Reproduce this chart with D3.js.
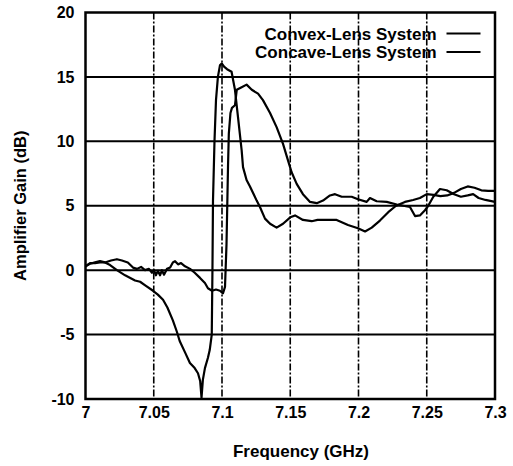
<!DOCTYPE html>
<html>
<head>
<meta charset="utf-8">
<script src="https://cdn.jsdelivr.net/npm/d3@7"></script>
<style>
  html, body { margin: 0; padding: 0; background: #fff; }
  svg { display: block; }
  text { font-family: "Liberation Sans", Arial, Helvetica, sans-serif; font-weight: bold; fill: #000; }
</style>
</head>
<body>
<svg id="chart" width="513" height="466"></svg>
<script>
// ---- data ----
const seriesNames = ["Convex-Lens System", "Concave-Lens System"];

const convexFreq = [7.000, 7.0033, 7.007, 7.0106, 7.0143, 7.018, 7.023, 7.029, 7.0363, 7.040, 7.044, 7.0495, 7.053, 7.0568, 7.060, 7.064, 7.067, 7.069, 7.073, 7.0765, 7.080, 7.0824, 7.084, 7.085, 7.086, 7.0875, 7.0897, 7.091, 7.0925, 7.093, 7.0934, 7.0945, 7.0956, 7.097, 7.0985, 7.0998, 7.1015, 7.1037, 7.107, 7.1095, 7.1117, 7.1144, 7.1154, 7.118, 7.1205, 7.1254, 7.1278, 7.1315, 7.1352, 7.140, 7.1447, 7.150, 7.1535, 7.1593, 7.1657, 7.170, 7.1767, 7.184, 7.1923, 7.1996, 7.2048, 7.2097, 7.2157, 7.2218, 7.2275, 7.234, 7.240, 7.245, 7.250, 7.255, 7.260, 7.265, 7.270, 7.275, 7.280, 7.285, 7.290, 7.295, 7.300];
const convexGain = [0.3, 0.5, 0.6, 0.7, 0.6, 0.4, 0.0, -0.4, -0.8, -0.9, -1.2, -1.6, -1.9, -2.3, -2.9, -3.9, -4.8, -5.5, -6.4, -7.2, -7.6, -8.0, -8.6, -9.9, -8.5, -7.6, -6.8, -6.2, -5.0, 0.0, 5.4, 10.0, 13.2, 15.0, 15.9, 16.05, 15.8, 15.6, 15.4, 14.0, 11.9, 9.3, 8.0, 7.0, 6.5, 5.4, 4.9, 4.0, 3.6, 3.3, 3.6, 4.1, 4.25, 3.9, 3.8, 3.9, 3.9, 3.9, 3.5, 3.25, 3.0, 3.3, 3.85, 4.5, 5.0, 5.3, 5.45, 5.6, 5.9, 5.85, 5.75, 5.8, 6.0, 6.3, 6.5, 6.4, 6.2, 6.15, 6.15];

const concaveFreq = [7.000, 7.0033, 7.007, 7.0106, 7.0143, 7.0187, 7.023, 7.0267, 7.031, 7.0348, 7.0377, 7.0407, 7.0436, 7.0465, 7.0487, 7.0502, 7.0516, 7.053, 7.0546, 7.056, 7.0575, 7.0597, 7.062, 7.064, 7.0656, 7.0678, 7.070, 7.0729, 7.0766, 7.080, 7.0839, 7.0875, 7.0897, 7.0927, 7.0956, 7.0985, 7.1007, 7.1022, 7.1033, 7.1044, 7.105, 7.1062, 7.1073, 7.1095, 7.1108, 7.1144, 7.118, 7.1218, 7.1264, 7.130, 7.1352, 7.140, 7.1447, 7.1484, 7.151, 7.1547, 7.1593, 7.1645, 7.1694, 7.174, 7.1791, 7.1828, 7.1877, 7.195, 7.1996, 7.206, 7.2084, 7.2133, 7.2207, 7.228, 7.2377, 7.2414, 7.245, 7.2487, 7.2511, 7.2548, 7.2597, 7.2646, 7.270, 7.275, 7.280, 7.284, 7.288, 7.293, 7.300];
const concaveGain = [0.3, 0.55, 0.55, 0.6, 0.6, 0.75, 0.85, 0.75, 0.6, 0.2, 0.1, 0.25, 0.0, 0.1, -0.2, 0.0, -0.4, -0.05, -0.4, 0.0, -0.35, 0.1, 0.2, 0.6, 0.7, 0.45, 0.55, 0.3, 0.1, -0.2, -0.6, -1.0, -1.4, -1.6, -1.5, -1.6, -1.8, -1.3, 2.0, 8.0, 10.6, 12.2, 12.6, 12.8, 14.0, 14.2, 14.4, 14.0, 13.7, 13.2, 12.2, 11.1, 9.8, 8.5, 7.6, 6.7, 5.9, 5.3, 5.2, 5.4, 5.8, 5.9, 5.7, 5.7, 5.5, 5.3, 5.6, 5.35, 5.3, 5.1, 4.9, 4.2, 4.25, 4.65, 5.0, 5.7, 6.3, 6.2, 5.9, 5.7, 5.8, 5.9, 5.6, 5.45, 5.3];

const xTicks = [7, 7.05, 7.1, 7.15, 7.2, 7.25, 7.3];
const xTickLabels = ["7", "7.05", "7.1", "7.15", "7.2", "7.25", "7.3"];
const yTicks = [-10, -5, 0, 5, 10, 15, 20];
const yTickLabels = ["-10", "-5", "0", "5", "10", "15", "20"];
const xTitle = "Frequency (GHz)";
const yTitle = "Amplifier Gain (dB)";

// ---- layout ----
const W = 513, H = 466;
const margin = { left: 85.5, right: 18, top: 12.5, bottom: 67 };
const iw = W - margin.left - margin.right;
const ih = H - margin.top - margin.bottom;

const svg = d3.select("#chart");
const g = svg.append("g").attr("transform", `translate(${margin.left},${margin.top})`);

const x = d3.scaleLinear().domain([7, 7.3]).range([0, iw]);
const y = d3.scaleLinear().domain([-10, 20]).range([ih, 0]);

// horizontal grid (solid)
g.append("g")
  .selectAll("line")
  .data(yTicks.filter(v => v > -10 && v < 20))
  .join("line")
  .attr("x1", 0).attr("x2", iw)
  .attr("y1", d => y(d)).attr("y2", d => y(d))
  .attr("stroke", "#000").attr("stroke-width", 2);

// vertical grid (dashed)
g.append("g")
  .selectAll("line")
  .data(xTicks.filter(v => v > 7 && v < 7.3))
  .join("line")
  .attr("x1", d => x(d)).attr("x2", d => x(d))
  .attr("y1", 0).attr("y2", ih)
  .attr("stroke", "#000").attr("stroke-width", 1.6)
  .attr("stroke-dasharray", "7,2,2,2");

// axes with labels
const xAxis = d3.axisBottom(x).tickValues(xTicks).tickFormat((d, i) => xTickLabels[i]).tickSize(0).tickPadding(8);
const gx = g.append("g").attr("transform", `translate(0,${ih})`).call(xAxis);
gx.select(".domain").remove();
gx.selectAll("text").attr("font-size", 16).attr("font-family", "Liberation Sans, Arial, sans-serif").attr("font-weight", "bold").attr("fill", "#000");

const yAxis = d3.axisLeft(y).tickValues(yTicks).tickFormat((d, i) => yTickLabels[i]).tickSize(0).tickPadding(11);
const gy = g.append("g").call(yAxis);
gy.select(".domain").remove();
gy.selectAll("text").attr("font-size", 16).attr("font-family", "Liberation Sans, Arial, sans-serif").attr("font-weight", "bold").attr("fill", "#000");

// frame
g.append("rect")
  .attr("x", 0).attr("y", 0).attr("width", iw).attr("height", ih)
  .attr("fill", "none").attr("stroke", "#000").attr("stroke-width", 2.5);

// curves
const line = d3.line().x(d => x(d[0])).y(d => y(d[1]));
const convex = convexFreq.map((f, i) => [f, convexGain[i]]);
const concave = concaveFreq.map((f, i) => [f, concaveGain[i]]);
g.append("path").datum(convex).attr("d", line)
  .attr("fill", "none").attr("stroke", "#000").attr("stroke-width", 2.2).attr("stroke-linejoin", "round");
g.append("path").datum(concave).attr("d", line)
  .attr("fill", "none").attr("stroke", "#000").attr("stroke-width", 2.2).attr("stroke-linejoin", "round");

// legend
const leg = g.append("g");
seriesNames.forEach((name, i) => {
  const yy = 21 + i * 18.5;
  leg.append("text").attr("x", 351).attr("y", yy + 6)
    .attr("text-anchor", "end").attr("font-size", 17).text(name);
  leg.append("line").attr("x1", 361).attr("x2", 395).attr("y1", yy).attr("y2", yy)
    .attr("stroke", "#000").attr("stroke-width", 2);
});

// axis titles
svg.append("text")
  .attr("x", 301).attr("y", 457)
  .attr("text-anchor", "middle").attr("font-size", 17).text(xTitle);
svg.append("text")
  .attr("transform", `translate(26,${margin.top + ih / 2}) rotate(-90)`)
  .attr("text-anchor", "middle").attr("font-size", 16.5).text(yTitle);
</script>
</body>
</html>
